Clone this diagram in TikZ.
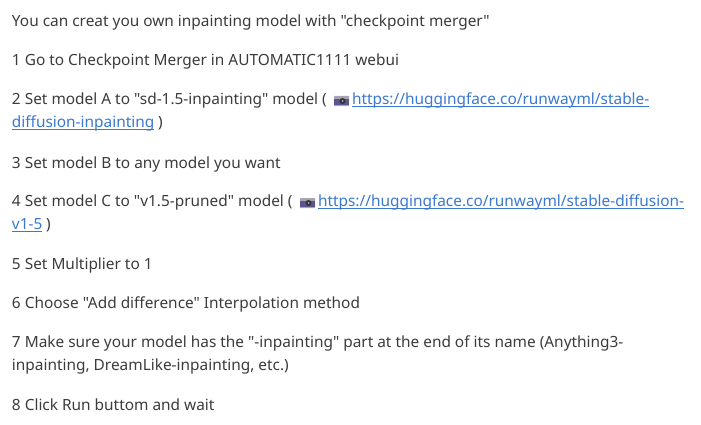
\documentclass[tikz,border=0pt]{standalone}
\usepackage{fontspec}
\newfontfamily\notofont{Noto Sans}
\definecolor{bodytext}{HTML}{3C3C3C}
\definecolor{linkblue}{HTML}{3B78D0}
\definecolor{cambody}{HTML}{5A5490}
\definecolor{camtop}{HTML}{A8A4B4}
\tikzset{
    line/.style={anchor=base west, inner sep=0pt, outer sep=0pt, text=bodytext, font=\notofont\fontsize{15.4}{18}\selectfont},
    link/.style={line, text=linkblue},
    linkline/.style={draw=linkblue, line width=0.9pt},
}
\newcommand{\camera}[1]{%
    \fill[camtop, rounded corners=0.5pt] (#1,0) rectangle ++(15,-10);
    \fill[cambody] (#1,-3) rectangle ++(15,-5.5);
    \fill[black!80] (#1+8.5,-5) circle (3);
    \fill[cambody!50] (#1+8.5,-5) circle (1);
}
\begin{document}
\begin{tikzpicture}[x=1pt,y=1pt]
    \useasboundingbox (0,0) rectangle (701,424);
    \fill[white] (0,0) rectangle (701,424);
    \node[line] (intro) at (12,397) {You can creat you own inpainting model with "checkpoint merger"};
    \node[line] (one) at (12,358) {1 Go to Checkpoint Merger in AUTOMATIC1111 webui};
    \node[line] (two) at (12,319.5) {2 Set model A to "sd-1.5-inpainting" model (};
    \node[link] (twourl) at (352,319.5) {https://huggingface.co/runwayml/stable-};
    \node[link] (twourlb) at (12,296.5) {diffusion-inpainting};
    \node[line] (twoend) at (158,296.5) {)};
    \node[line] (three) at (12,256) {3 Set model B to any model you want};
    \node[line] (four) at (12,217.5) {4 Set model C to "v1.5-pruned" model (};
    \node[link] (foururl) at (318,217.5) {https://huggingface.co/runwayml/stable-diffusion-};
    \node[link] (foururlb) at (12,194.5) {v1-5};
    \node[line] (fourend) at (46,194.5) {)};
    \node[line] (five) at (12,155) {5 Set Multiplier to 1};
    \node[line] (six) at (12,116) {6 Choose "Add difference" Interpolation method};
    \node[line] (seven) at (12,76.5) {7 Make sure your model has the "-inpainting" part at the end of its name (Anything3-};
    \node[line] (sevenb) at (12,53.5) {inpainting, DreamLike-inpainting, etc.)};
    \node[line] (eight) at (12,14) {8 Click Run buttom and wait};
    % underlines of the links
    \foreach \urlname in {twourl,twourlb,foururl,foururlb}
        \draw[linkline] ([yshift=-1.8pt]\urlname.base west) -- ([yshift=-1.8pt]\urlname.base east);
    % the two little cameras
    \begin{scope}[yshift=328pt]
        \camera{334}
    \end{scope}
    \begin{scope}[yshift=226pt]
        \camera{300}
    \end{scope}
\end{tikzpicture}
\end{document}
